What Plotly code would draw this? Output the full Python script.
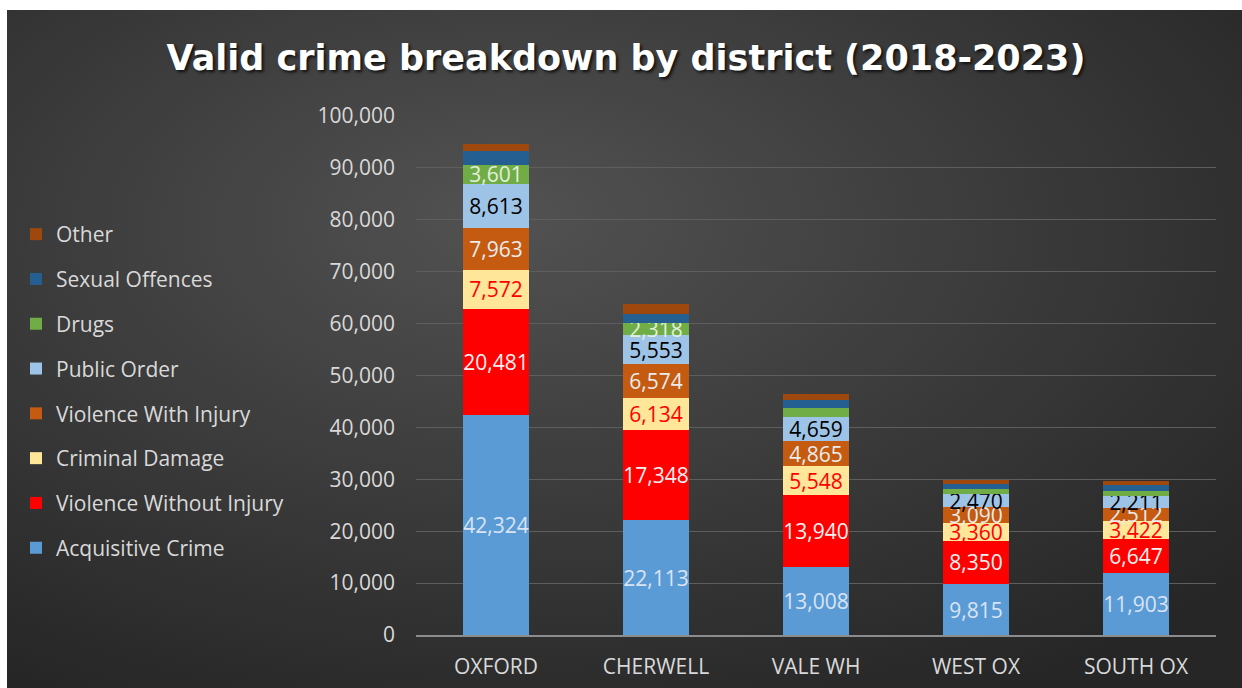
import base64
import plotly.graph_objects as go

districts = ["OXFORD", "CHERWELL", "VALE WH", "WEST OX", "SOUTH OX"]

acquisitive = [42324, 22113, 13008, 9815, 11903]
violence_without_injury = [20481, 17348, 13940, 8350, 6647]
criminal_damage = [7572, 6134, 5548, 3360, 3422]
violence_with_injury = [7963, 6574, 4865, 3090, 2512]
public_order = [8613, 5553, 4659, 2470, 2211]
drugs = [3601, 2318, 1730, 960, 960]
sexual_offences = [2700, 1750, 1540, 1000, 1160]
other = [1350, 1900, 1160, 770, 770]

# which segments carry a data label in the reference
drugs_labelled = [True, True, False, False, False]

series = [
    ("Acquisitive Crime", acquisitive, "#5B9BD5", "#dae3f3", [True] * 5),
    ("Violence Without Injury", violence_without_injury, "#FF0000", "#f2f2f2", [True] * 5),
    ("Criminal Damage", criminal_damage, "#FFE699", "#FF0000", [True] * 5),
    ("Violence With Injury", violence_with_injury, "#C55A11", "#ececec", [True] * 5),
    ("Public Order", public_order, "#9DC3E6", "#000000", [True] * 5),
    ("Drugs", drugs, "#70AD47", "#e2efda", drugs_labelled),
    ("Sexual Offences", sexual_offences, "#255E91", "#ffffff", [False] * 5),
    ("Other", other, "#9E480E", "#ffffff", [False] * 5),
]

W, H = 1242, 688
L = 416
R = W - 1216
T = 116
B = H - 635
pw, ph = W - L - R, H - T - B

fig = go.Figure()
for i, (name, vals, col, tcol, show) in enumerate(series):
    fig.add_trace(go.Bar(
        name=name, x=districts, y=vals,
        marker=dict(color=col, line=dict(width=0)),
        text=[f"{v:,}" if s else "" for v, s in zip(vals, show)],
        textposition="inside", insidetextanchor="middle", textangle=0,
        textfont=dict(family="Open Sans", size=21, color=tcol),
        constraintext="none", cliponaxis=False,
        legendgroup=f"g{i}", legendrank=1000 - 10 * i,
        hoverinfo="x+y+name",
    ))

# radial gradient background as svg image (dark area starts at x=7, y=10)
bx, by = 7, 10
bw, bh = W - bx + 4, H - by + 4
svg = f'''<svg xmlns="http://www.w3.org/2000/svg" width="{bw}" height="{bh}" viewBox="0 0 {bw} {bh}" preserveAspectRatio="none">
<defs><radialGradient id="g" cx="42%" cy="35%" r="75%" fx="40%" fy="30%">
<stop offset="0%" stop-color="#525252"/><stop offset="100%" stop-color="#262626"/></radialGradient></defs>
<rect width="100%" height="100%" fill="url(#g)"/></svg>'''
src = "data:image/svg+xml;base64," + base64.b64encode(svg.encode()).decode()


def px_x(p):
    return (p - L) / pw


def px_y(p):
    return (H - B - p) / ph


fig.update_layout(
    width=W, height=H,
    margin=dict(l=L, r=R, t=T, b=B, autoexpand=False),
    paper_bgcolor="#2a2a2a",
    plot_bgcolor="rgba(0,0,0,0)",
    barmode="stack",
    bargap=0.59,
    uniformtext=dict(minsize=21, mode="show"),
    images=[dict(source=src, xref="paper", yref="paper",
                 x=px_x(bx), y=px_y(by), sizex=bw / pw, sizey=bh / ph,
                 xanchor="left", yanchor="top", sizing="stretch", layer="below")],
    shapes=[
        dict(type="rect", xref="paper", yref="paper", layer="below",
             x0=px_x(0), x1=px_x(bx), y0=px_y(H), y1=px_y(0),
             fillcolor="#ffffff", line=dict(width=0)),
        dict(type="rect", xref="paper", yref="paper", layer="below",
             x0=px_x(0), x1=px_x(W), y0=px_y(by), y1=px_y(0),
             fillcolor="#ffffff", line=dict(width=0)),
    ],
    title=dict(text="<b>Valid crime breakdown by district (2018-2023)</b>",
               x=626 / W, xanchor="center",
               y=1 - 58 / H, yanchor="middle", yref="container",
               font=dict(family="DejaVu Sans", size=35, color="#ffffff",
                         shadow="2px 2px 3px #111111")),
    legend=dict(x=px_x(16), y=px_y(214), xanchor="left", yanchor="top",
                traceorder="grouped", tracegroupgap=14.5,
                font=dict(family="Open Sans", size=21, color="#d9d9d9"),
                bgcolor="rgba(0,0,0,0)"),
    yaxis=dict(range=[0, 100000], dtick=10000, tickformat=",", automargin=False,
               showgrid=True, gridcolor="#5e5e5e", gridwidth=1,
               zeroline=False, showline=False, ticks="", ticklabelstandoff=20,
               tickfont=dict(family="Open Sans", size=21, color="#d9d9d9")),
    xaxis=dict(showline=True, linecolor="#8c8c8c", linewidth=2, ticks="",
               showgrid=False, ticklabelstandoff=12, automargin=False,
               tickfont=dict(family="Open Sans", size=21, color="#d9d9d9")),
)

fig.write_html(
    "out.html",
    config={"displayModeBar": False},
    post_script="document.body.style.margin='0';document.body.style.overflow='hidden';",
)
